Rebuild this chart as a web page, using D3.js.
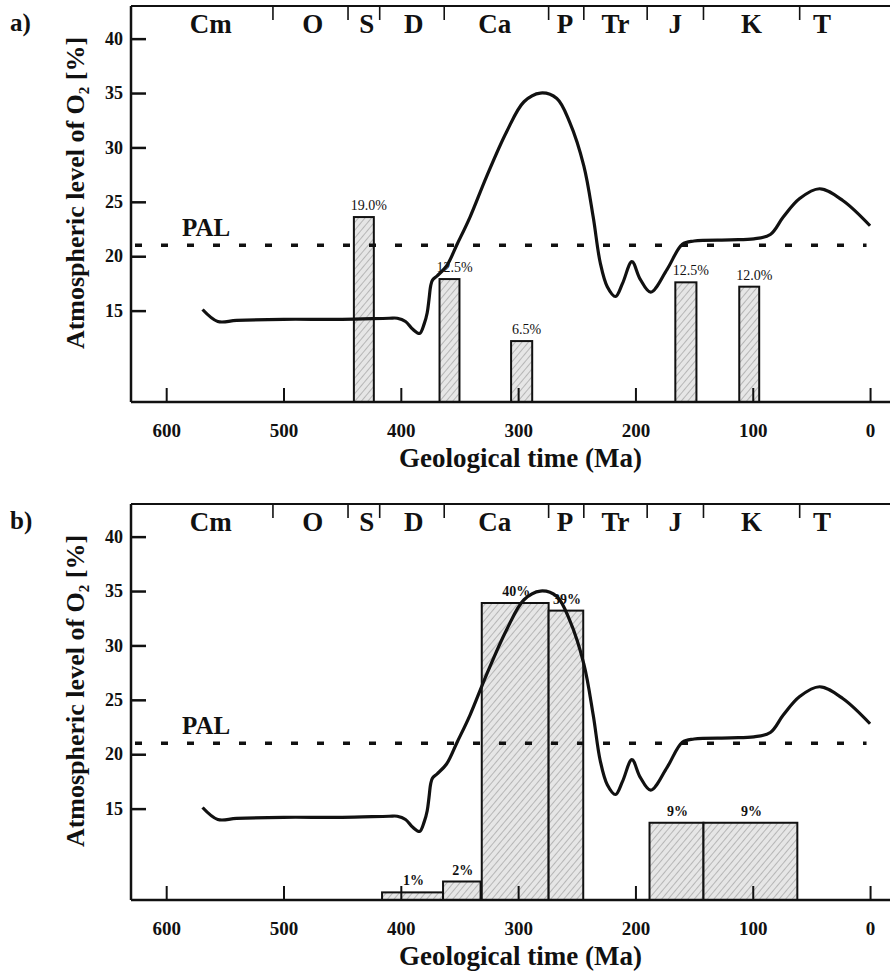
<!DOCTYPE html>
<html>
<head>
<meta charset="utf-8">
<script src="https://cdn.jsdelivr.net/npm/d3@7"></script>
<style>
  body { margin: 0; background: #fff; }
  svg { display: block; }
  text { font-family: "Liberation Serif", "Times New Roman", serif; fill: #111; }
</style>
</head>
<body>
<svg id="chart" width="890" height="977"></svg>
<script>
// O2 curve (Ma, % O2) - same curve in both panels
const curveMa  = [569, 556, 540, 500, 450, 410, 403, 396, 390, 384, 380, 377.5, 376, 374.5, 373, 369, 361, 352, 341, 327, 310, 295, 281, 267, 256, 244, 236, 230, 224, 217, 211, 203, 196, 187, 173, 160, 150, 119, 99, 85, 74, 60, 43, 23, 0];
const curveO2  = [15.1, 14.0, 14.1, 14.2, 14.2, 14.3, 14.3, 14.0, 13.3, 12.9, 13.8, 14.8, 16.0, 17.3, 17.8, 18.2, 19.1, 21.1, 23.6, 27.3, 31.4, 34.2, 35.0, 34.5, 32.3, 28.3, 23.6, 19.4, 17.2, 16.3, 17.5, 19.5, 17.9, 16.7, 18.8, 21.1, 21.4, 21.5, 21.6, 22.0, 23.6, 25.3, 26.2, 25.1, 22.8];

const PAL = 21;

// geological periods
const periodNames  = ["Cm", "O", "S", "D", "Ca", "P", "Tr", "J", "K", "T"];
const periodLabelMa = [562, 475, 429, 389, 320, 260, 217, 166, 101, 41];
const periodBounds = [509, 445, 418, 363, 274, 244, 190, 142, 60];

const xTicks = [600, 500, 400, 300, 200, 100, 0];
const yTicks = [15, 20, 25, 30, 35, 40];

// panel a) bars
const barsAStart = [440, 367, 306, 166, 111.5];
const barsAEnd   = [423, 350, 288, 148, 94.5];
const barsATop   = [23.6, 17.9, 12.2, 17.6, 17.2];
const barsALabel = ["19.0%", "12.5%", "6.5%", "12.5%", "12.0%"];

// panel b) bars
const barsBStart = [416, 364, 331, 274, 188, 142];
const barsBEnd   = [364, 332, 274, 244.5, 142, 62];
const barsBTop   = [7.3, 8.3, 33.9, 33.2, 13.7, 13.7];
const barsBLabel = ["1%", "2%", "40%", "39%", "9%", "9%"];

const svg = d3.select("#chart");
const W = 759, H = 396, left = 131;

// hatch pattern for bars
const defs = svg.append("defs");
const pat = defs.append("pattern")
    .attr("id", "hatch")
    .attr("patternUnits", "userSpaceOnUse")
    .attr("width", 5).attr("height", 5)
    .attr("patternTransform", "rotate(40)");
pat.append("rect").attr("width", 5).attr("height", 5).attr("fill", "#e6e6e6");
pat.append("line").attr("x1", 0).attr("y1", 0).attr("x2", 0).attr("y2", 5)
    .attr("stroke", "#6f6f6f").attr("stroke-width", 0.8);

const x = d3.scaleLinear().domain([630, -17]).range([0, W]);
const y = d3.scaleLinear().domain([6.6, 43]).range([H, 0]);

function drawPanel(top, tag, starts, ends, tops, labels, bold) {
  const g = svg.append("g").attr("transform", "translate(" + left + "," + top + ")");

  // bars
  const bars = d3.range(starts.length).map(i => ({s: starts[i], e: ends[i], t: tops[i], l: labels[i]}));
  g.selectAll("rect.bar").data(bars).enter().append("rect")
      .attr("class", "bar")
      .attr("x", d => x(d.s))
      .attr("width", d => x(d.e) - x(d.s))
      .attr("y", d => y(d.t))
      .attr("height", d => H - y(d.t))
      .attr("fill", "url(#hatch)")
      .attr("stroke", "#111")
      .attr("stroke-width", 2);
  g.selectAll("text.blab").data(bars).enter().append("text")
      .attr("class", "blab")
      .attr("x", d => (x(d.s) + x(d.e)) / 2 + (bold ? 1 : 5))
      .attr("y", d => y(d.t) - 7)
      .attr("text-anchor", "middle")
      .attr("font-size", 14)
      .attr("font-weight", bold ? "bold" : "normal")
      .text(d => d.l);

  // PAL line
  g.append("line")
      .attr("x1", 0).attr("x2", x(3))
      .attr("y1", y(PAL)).attr("y2", y(PAL))
      .attr("stroke", "#111").attr("stroke-width", 3.5)
      .attr("stroke-dasharray", "7,19")
      .attr("stroke-dashoffset", -4);
  g.append("text")
      .attr("x", 51).attr("y", y(PAL) - 9)
      .attr("font-size", 25).attr("font-weight", "bold")
      .text("PAL");

  // O2 curve
  const pts = curveMa.map((m, i) => [m, curveO2[i]]);
  g.append("path")
      .datum(pts)
      .attr("fill", "none")
      .attr("stroke", "#111")
      .attr("stroke-width", 3.2)
      .attr("stroke-linejoin", "round")
      .attr("d", d3.line().x(d => x(d[0])).y(d => y(d[1])).curve(d3.curveCatmullRom.alpha(0.5)));

  // frame
  g.append("line").attr("x1", 0).attr("x2", W).attr("y1", 0).attr("y2", 0)
      .attr("stroke", "#111").attr("stroke-width", 2);
  g.append("line").attr("x1", 0).attr("x2", W).attr("y1", H).attr("y2", H)
      .attr("stroke", "#111").attr("stroke-width", 2.5);
  g.append("line").attr("x1", 0).attr("x2", 0).attr("y1", 0).attr("y2", H)
      .attr("stroke", "#111").attr("stroke-width", 2.5);

  // axes
  const ya = g.append("g").call(d3.axisLeft(y).tickValues(yTicks).tickSize(-15).tickSizeOuter(0).tickPadding(8));
  ya.select(".domain").remove();
  ya.selectAll("line").attr("stroke", "#111").attr("stroke-width", 2.5);
  ya.selectAll("text").attr("font-size", 18).attr("font-weight", "bold")
      .style("font-family", "'Liberation Serif', serif").attr("fill", "#111");

  const xa = g.append("g").attr("transform", "translate(0," + H + ")")
      .call(d3.axisBottom(x).tickValues(xTicks).tickSize(-14).tickSizeOuter(0).tickPadding(22));
  xa.select(".domain").remove();
  xa.selectAll("line").attr("stroke", "#111").attr("stroke-width", 2);
  xa.selectAll("text").attr("font-size", 19).attr("font-weight", "bold")
      .style("font-family", "'Liberation Serif', serif").attr("fill", "#111");

  // period boundaries and names
  g.selectAll("line.pb").data(periodBounds).enter().append("line")
      .attr("class", "pb")
      .attr("x1", d => x(d)).attr("x2", d => x(d))
      .attr("y1", 0).attr("y2", 14)
      .attr("stroke", "#111").attr("stroke-width", 1.6);
  g.selectAll("text.pn").data(periodNames).enter().append("text")
      .attr("class", "pn")
      .attr("x", (d, i) => x(periodLabelMa[i]))
      .attr("y", 27)
      .attr("text-anchor", "middle")
      .attr("font-size", 27).attr("font-weight", "bold")
      .text(d => d);

  // axis titles
  g.append("text")
      .attr("x", x(298)).attr("y", H + 65)
      .attr("text-anchor", "middle")
      .attr("font-size", 27).attr("font-weight", "bold")
      .text("Geological time (Ma)");
  const yt = g.append("text")
      .attr("transform", "translate(" + (-47) + "," + (187) + ") rotate(-90)")
      .attr("text-anchor", "middle")
      .attr("font-size", 26).attr("font-weight", "bold");
  yt.append("tspan").text("Atmospheric level of O");
  yt.append("tspan").attr("font-size", 15).attr("dy", 5).text("2");
  yt.append("tspan").attr("dy", -5).text(" [%]");

  // panel tag
  svg.append("text")
      .attr("x", 10).attr("y", top + 25)
      .attr("font-size", 25).attr("font-weight", "bold")
      .text(tag);
}

drawPanel(6, "a)", barsAStart, barsAEnd, barsATop, barsALabel, false);
drawPanel(504, "b)", barsBStart, barsBEnd, barsBTop, barsBLabel, true);
</script>
</body>
</html>
